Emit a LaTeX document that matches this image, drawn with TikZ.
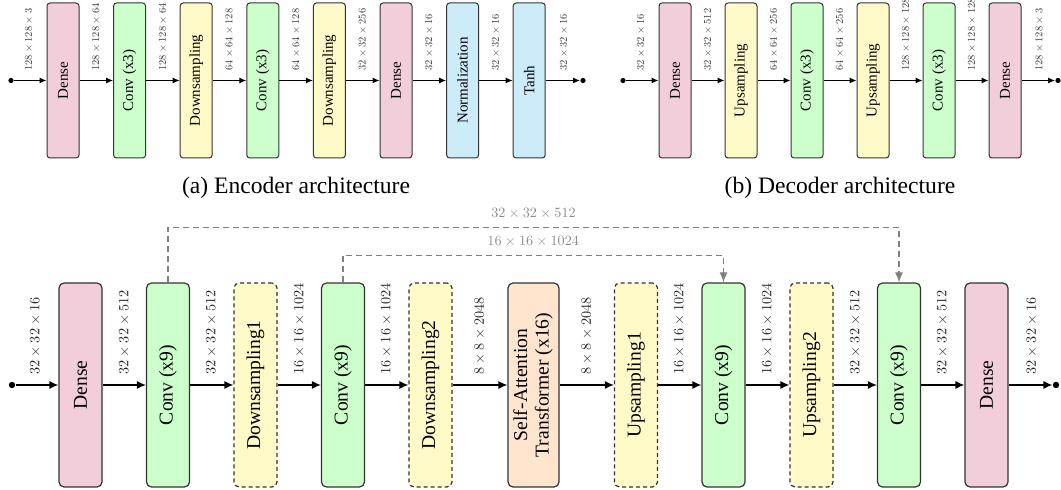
\documentclass[tikz,border=0pt]{standalone}
\usepackage[no-math]{fontspec}
\setmainfont{Liberation Serif}
\usetikzlibrary{arrows.meta}
\definecolor{cpink}{RGB}{242,205,218}
\definecolor{cgreen}{RGB}{204,255,204}
\definecolor{cyellow}{RGB}{255,250,200}
\definecolor{cblue}{RGB}{204,236,250}
\definecolor{corange}{RGB}{255,228,206}
\newcommand{\tdimlab}[1]{\rotatebox{90}{\scalebox{0.52}{\fontsize{10}{12}\selectfont$#1$}}}
\newcommand{\bdimlab}[1]{\rotatebox{90}{\scalebox{0.71}{\fontsize{10}{12}\selectfont$#1$}}}
\newcommand{\sdimlab}[1]{\scalebox{0.71}{\fontsize{10}{12}\selectfont$#1$}}
\begin{document}
\begin{tikzpicture}[x=0.5pt,y=-0.5pt,
  blk/.style={draw=black!80, line width=0.5pt, inner sep=0pt},
  topbox/.style={blk, rounded corners=1.5pt, minimum width=16pt, minimum height=77.5pt, font=\fontsize{7.5}{9}\selectfont},
  botbox/.style={blk, line width=0.6pt, rounded corners=2.5pt, minimum width=21.5pt, minimum height=102pt, font=\fontsize{9.8}{10.8}\selectfont},
  dsh/.style={dash pattern=on 2pt off 1.5pt},
  dense/.style={fill=cpink}, conv/.style={fill=cgreen}, samp/.style={fill=cyellow},
  norm/.style={fill=cblue}, attn/.style={fill=corange},
  dot/.style={circle, fill=black, inner sep=0pt, minimum size=2.6pt},
  bdot/.style={circle, fill=black, inner sep=0pt, minimum size=3.2pt},
  topdim/.style={text=black!80, inner sep=0pt, anchor=south},
  botdim/.style={text=black!85, inner sep=0pt, anchor=south},
  flowt/.style={-{Latex[length=3.5pt,width=3pt]}, line width=0.5pt},
  flowb/.style={-{Latex[length=4.5pt,width=4pt]}, line width=0.6pt},
  skip/.style={draw=black!50, dash pattern=on 3pt off 2pt, line width=0.6pt, -{Latex[length=5pt,width=4pt]}},
  skiplabel/.style={text=black!45, inner sep=4pt},
  captext/.style={font=\fontsize{11.8}{14}\selectfont}
]
\useasboundingbox (0,0) rectangle (1061,490);

% ---------------- Encoder ----------------
\node[dot] (es) at (11,80.5) {};
\node[topbox,dense] (e1) at (63,80.5) {\rotatebox{90}{Dense}};
\node[topbox,conv]  (e2) at (129.6,80.5) {\rotatebox{90}{Conv (x3)}};
\node[topbox,samp]  (e3) at (196.2,80.5) {\rotatebox{90}{Downsampling}};
\node[topbox,conv]  (e4) at (262.8,80.5) {\rotatebox{90}{Conv (x3)}};
\node[topbox,samp]  (e5) at (329.4,80.5) {\rotatebox{90}{Downsampling}};
\node[topbox,dense] (e6) at (396,80.5) {\rotatebox{90}{Dense}};
\node[topbox,norm]  (e7) at (462.6,80.5) {\rotatebox{90}{Normalization}};
\node[topbox,norm]  (e8) at (529.2,80.5) {\rotatebox{90}{Tanh}};
\node[dot] (ee) at (583,80.5) {};
\draw[flowt] (es) -- (e1);
\draw[flowt] (e1) -- (e2);
\draw[flowt] (e2) -- (e3);
\draw[flowt] (e3) -- (e4);
\draw[flowt] (e4) -- (e5);
\draw[flowt] (e5) -- (e6);
\draw[flowt] (e6) -- (e7);
\draw[flowt] (e7) -- (e8);
\draw[flowt] (e8) -- (ee);
\node[topdim] (el1) at (29,71) {\tdimlab{128\times128\times3}};
\node[topdim] (el2) at (96.3,71) {\tdimlab{128\times128\times64}};
\node[topdim] (el3) at (162.9,71) {\tdimlab{128\times128\times64}};
\node[topdim] (el4) at (229.5,71) {\tdimlab{64\times64\times128}};
\node[topdim] (el5) at (296.1,71) {\tdimlab{64\times64\times128}};
\node[topdim] (el6) at (362.7,71) {\tdimlab{32\times32\times256}};
\node[topdim] (el7) at (429.3,71) {\tdimlab{32\times32\times16}};
\node[topdim] (el8) at (495.9,71) {\tdimlab{32\times32\times16}};
\node[topdim] (el9) at (564,71) {\tdimlab{32\times32\times16}};
\node[captext] (capa) at (296,188) {(a) Encoder architecture};

% ---------------- Decoder ----------------
\node[dot] (ds) at (623,80.5) {};
\node[topbox,dense] (d1) at (675,80.5) {\rotatebox{90}{Dense}};
\node[topbox,samp]  (d2) at (741,80.5) {\rotatebox{90}{Upsampling}};
\node[topbox,conv]  (d3) at (807,80.5) {\rotatebox{90}{Conv (x3)}};
\node[topbox,samp]  (d4) at (873,80.5) {\rotatebox{90}{Upsampling}};
\node[topbox,conv]  (d5) at (939,80.5) {\rotatebox{90}{Conv (x3)}};
\node[topbox,dense] (d6) at (1005,80.5) {\rotatebox{90}{Dense}};
\node[dot] (de) at (1058,80.5) {};
\draw[flowt] (ds) -- (d1);
\draw[flowt] (d1) -- (d2);
\draw[flowt] (d2) -- (d3);
\draw[flowt] (d3) -- (d4);
\draw[flowt] (d4) -- (d5);
\draw[flowt] (d5) -- (d6);
\draw[flowt] (d6) -- (de);
\node[topdim] (dl1) at (641,71) {\tdimlab{32\times32\times16}};
\node[topdim] (dl2) at (708,71) {\tdimlab{32\times32\times512}};
\node[topdim] (dl3) at (774,71) {\tdimlab{64\times64\times256}};
\node[topdim] (dl4) at (840,71) {\tdimlab{64\times64\times256}};
\node[topdim] (dl5) at (906,71) {\tdimlab{128\times128\times128}};
\node[topdim] (dl6) at (972,71) {\tdimlab{128\times128\times128}};
\node[topdim] (dl7) at (1039.5,71) {\tdimlab{128\times128\times3}};
\node[captext] (capb) at (840,188) {(b) Decoder architecture};

% ---------------- Full model ----------------
\node[bdot] (bs) at (12,385) {};
\node[botbox,dense] (b1) at (80.5,385) {\rotatebox{90}{Dense}};
\node[botbox,conv]  (b2) at (168,385) {\rotatebox{90}{Conv (x9)}};
\node[botbox,samp,dsh] (b3) at (255.5,385) {\rotatebox{90}{Downsampling1}};
\node[botbox,conv]  (b4) at (343,385) {\rotatebox{90}{Conv (x9)}};
\node[botbox,samp,dsh] (b5) at (430.5,385) {\rotatebox{90}{Downsampling2}};
\node[botbox,attn,minimum width=25.5pt] (b6) at (533.5,385) {\rotatebox{90}{\begin{tabular}{@{}c@{}}Self-Attention\\Transformer (x16)\end{tabular}}};
\node[botbox,samp,dsh] (b7) at (636,385) {\rotatebox{90}{Upsampling1}};
\node[botbox,conv]  (b8) at (723.5,385) {\rotatebox{90}{Conv (x9)}};
\node[botbox,samp,dsh] (b9) at (811.5,385) {\rotatebox{90}{Upsampling2}};
\node[botbox,conv]  (b10) at (899,385) {\rotatebox{90}{Conv (x9)}};
\node[botbox,dense] (b11) at (986.5,385) {\rotatebox{90}{Dense}};
\node[bdot] (be) at (1056,385) {};
\draw[flowb] (bs) -- (b1);
\draw[flowb] (b1) -- (b2);
\draw[flowb] (b2) -- (b3);
\draw[flowb] (b3) -- (b4);
\draw[flowb] (b4) -- (b5);
\draw[flowb] (b5) -- (b6);
\draw[flowb] (b6) -- (b7);
\draw[flowb] (b7) -- (b8);
\draw[flowb] (b8) -- (b9);
\draw[flowb] (b9) -- (b10);
\draw[flowb] (b10) -- (b11);
\draw[flowb] (b11) -- (be);
\node[botdim] (bl1) at (35.5,375) {\bdimlab{32\times32\times16}};
\node[botdim] (bl2) at (124.5,375) {\bdimlab{32\times32\times512}};
\node[botdim] (bl3) at (211.5,375) {\bdimlab{32\times32\times512}};
\node[botdim] (bl4) at (299.5,375) {\bdimlab{16\times16\times1024}};
\node[botdim] (bl5) at (386.5,375) {\bdimlab{16\times16\times1024}};
\node[botdim] (bl6) at (480,375) {\bdimlab{8\times8\times2048}};
\node[botdim] (bl7) at (587,375) {\bdimlab{8\times8\times2048}};
\node[botdim] (bl8) at (679.5,375) {\bdimlab{16\times16\times1024}};
\node[botdim] (bl9) at (767.5,375) {\bdimlab{16\times16\times1024}};
\node[botdim] (bl10) at (855.5,375) {\bdimlab{32\times32\times512}};
\node[botdim] (bl11) at (942.5,375) {\bdimlab{32\times32\times512}};
\node[botdim] (bl12) at (1032,375) {\bdimlab{32\times32\times16}};

% skip connections
\draw[skip] (b2.north) -- ++(0,-55) -| node[pos=0.25, above, skiplabel] {\sdimlab{32\times32\times512}} (b10.north);
\draw[skip] (b4.north) -- ++(0,-27) -| node[pos=0.25, above, skiplabel] {\sdimlab{16\times16\times1024}} (b8.north);
\end{tikzpicture}
\end{document}
